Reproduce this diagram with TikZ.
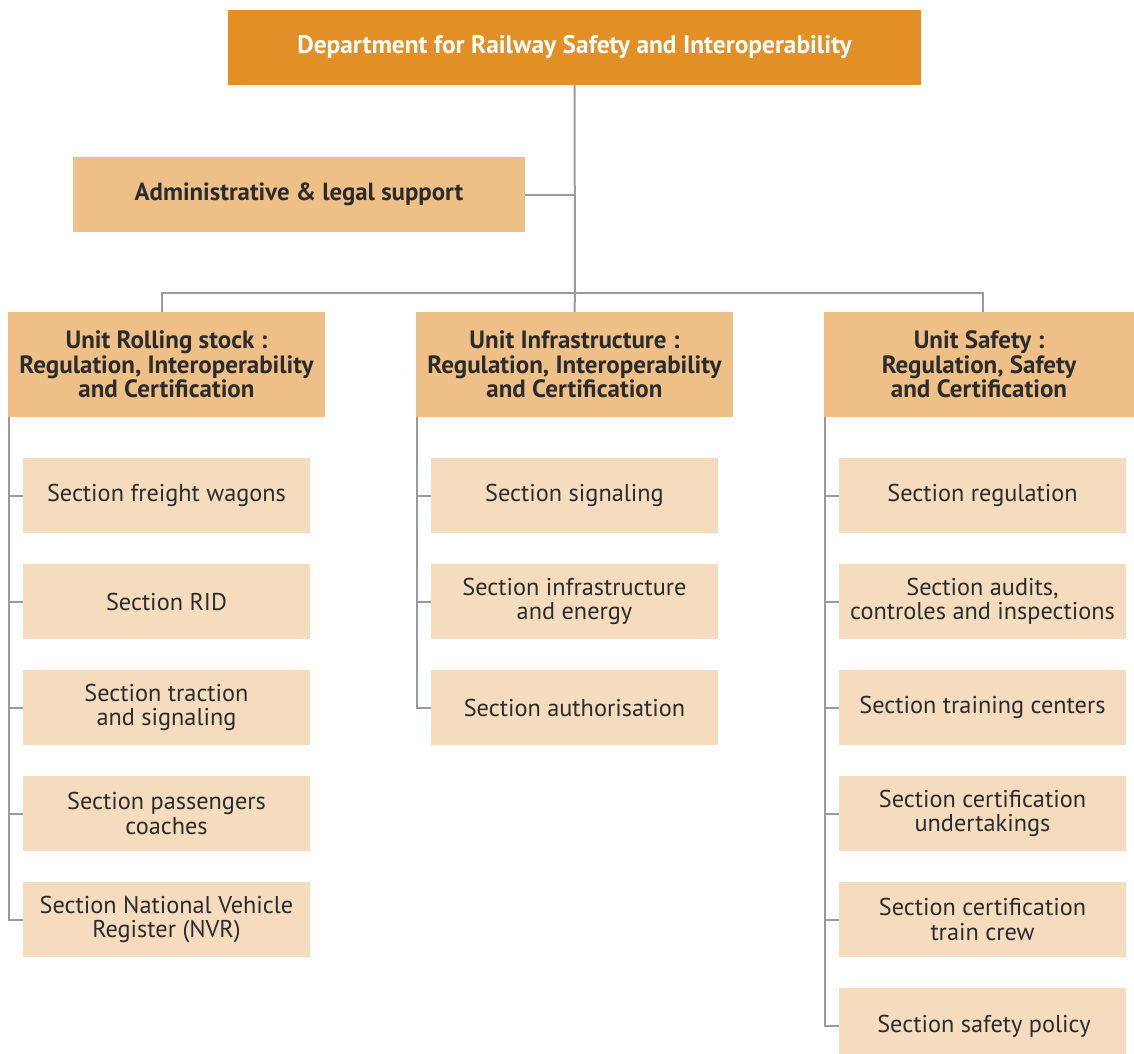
\documentclass[tikz,border=0pt]{standalone}
\usepackage{fontspec}
\setmainfont{PT Sans}
\definecolor{topc}{HTML}{E29026}
\definecolor{unitc}{HTML}{EEC088}
\definecolor{secc}{HTML}{F5DCBE}
\definecolor{linec}{HTML}{9A9A9A}
\definecolor{txt}{HTML}{2B2B2B}
\begin{document}
\begin{tikzpicture}[x=1pt,y=-1pt,
  box/.style={draw=none,inner sep=0pt,align=center,text=txt},
  topbox/.style={box,fill=topc,minimum width=693pt,minimum height=75pt,text=white,font=\fontsize{25.4}{28}\selectfont\bfseries},
  adminbox/.style={box,fill=unitc,minimum width=452pt,minimum height=75pt,font=\fontsize{24.8}{26}\selectfont\bfseries},
  unitbox/.style={box,fill=unitc,minimum height=105pt,font=\fontsize{25}{24.5}\selectfont\bfseries},
  secbox/.style={box,fill=secc,minimum width=287pt,minimum height=75pt,font=\fontsize{24.3}{24.5}\selectfont},
  plain/.style={inner sep=0pt,align=center,text=txt,font=\fontsize{24.3}{24.5}\selectfont},
  conn/.style={draw=linec,line width=2pt}]
\useasboundingbox (0,0) rectangle (1134,1053);
\node[topbox] (top) at (574.5,47) {Department for Railway Safety and Interoperability};
\node[adminbox] (adm) at (299,194.5) {Administrative \& legal support};
\node[unitbox,minimum width=317pt] (u1) at (166.5,364.5) {Unit Rolling stock :\\Regulation, Interoperability\\and Certification};
\node[unitbox,minimum width=317pt] (u2) at (574.5,364.5) {Unit Infrastructure :\\Regulation, Interoperability\\and Certification};
\node[unitbox,minimum width=310pt] (u3) at (979,364.5) {Unit Safety :\\Regulation, Safety\\and Certification};
% left column
\node[secbox] (a1) at (166.5,495.5) {Section freight wagons};
\node[secbox] (a2) at (166.5,601.5) {Section RID};
\node[secbox] (a3) at (166.5,707.5) {Section traction\\and signaling};
\node[secbox] (a4) at (166.5,813.5) {Section passengers\\coaches};
\node[secbox] (a5) at (166.5,919.5) {Section National Vehicle\\Register (NVR)};
% middle column
\node[secbox] (b1) at (574.5,495.5) {Section signaling};
\node[secbox] (b2) at (574.5,601.5) {Section infrastructure\\and energy};
\node[secbox] (b3) at (574.5,707.5) {Section authorisation};
% right column
\node[secbox] (c1) at (982.5,495.5) {Section regulation};
\node[secbox] (c2) at (982.5,601.5) {Section audits,\\controles and inspections};
\node[secbox] (c3) at (982.5,707.5) {Section training centers};
\node[secbox] (c4) at (982.5,813.5) {Section certification\\undertakings};
\node[secbox] (c5) at (982.5,919.5) {Section certification\\train crew};
\node[secbox,minimum height=66pt] (c6) at (982.5,1021) {};
\node[plain] (c6t) at (984,1026) {Section safety policy};
% connectors
\coordinate (hub) at (575,293);
\draw[conn] (top.south) -- (hub);
\draw[conn] (adm.east) -- (adm.east -| top.south);
\draw[conn] (u1.north -| 162,0) |- (hub) -| (u3.north -| 983,0);
\draw[conn] (hub) -- (u2.north);
\draw[conn] (u1.south west) ++(1,0) |- (a5.west);
\foreach \n in {a1,a2,a3,a4} \draw[conn] (\n.west) -- ++(-14,0);
\draw[conn] (u2.south west) ++(1,0) |- (b3.west);
\foreach \n in {b1,b2} \draw[conn] (\n.west) -- ++(-14,0);
\draw[conn] (u3.south west) ++(1,0) |- (c6t.west -| c6.west);
\foreach \n in {c1,c2,c3,c4,c5} \draw[conn] (\n.west) -- ++(-14,0);
\end{tikzpicture}
\end{document}
